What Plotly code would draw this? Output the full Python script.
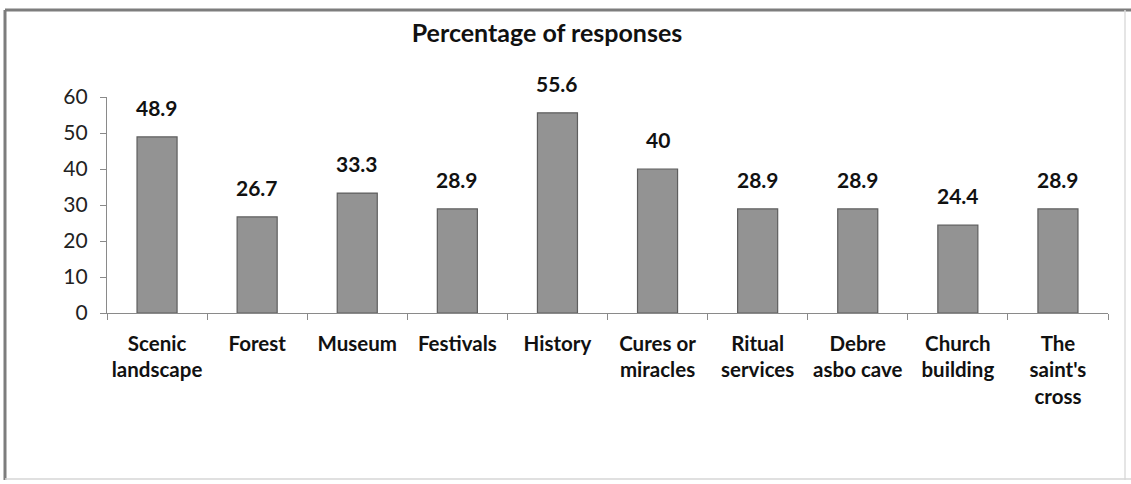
import plotly.graph_objects as go

categories = ["Scenic<br>landscape", "Forest", "Museum", "Festivals", "History",
              "Cures or<br>miracles", "Ritual<br>services", "Debre<br>asbo cave",
              "Church<br>building", "The<br>saint's<br>cross"]
values = [48.9, 26.7, 33.3, 28.9, 55.6, 40, 28.9, 28.9, 24.4, 28.9]
y_ticks = [0, 10, 20, 30, 40, 50, 60]
title_text = "Percentage of responses"

FONT = "Lato"
W, H = 1131, 484
L, R, T, B = 107, 23, 97, 171
pw, ph = W - L - R, H - T - B

def px2paper_x(px):
    return (px - L) / pw

def px2paper_y(py):
    return (H - B - py) / ph

fig = go.Figure()
fig.add_trace(go.Bar(
    x=categories, y=values, width=0.4,
    marker=dict(color="#939393", line=dict(color="#5e5e5e", width=1.2)),
    hoverinfo="x+y",
))

for c, v in zip(categories, values):
    fig.add_annotation(x=c, y=v, text=f"<b>{v:g}</b>", showarrow=False,
                       yanchor="bottom", yshift=15,
                       font=dict(family=FONT, size=21, color="#111"))

# chart frame
frame = [
    (5, 10, 1131, 10, "#7d7d7d", 3),
    (5, 10, 5, 480, "#7d7d7d", 3),
    (1125, 10, 1125, 480, "#dddddd", 1.5),
    (5, 479, 1131, 479, "#d6d6d6", 1.5),
]
for x0, y0, x1, y1, col, w in frame:
    fig.add_shape(type="line", xref="paper", yref="paper",
                  x0=px2paper_x(x0), y0=px2paper_y(y0),
                  x1=px2paper_x(x1), y1=px2paper_y(y1),
                  line=dict(color=col, width=w))

fig.update_layout(
    width=W, height=H,
    margin=dict(l=L, r=R, t=T, b=B, pad=0),
    paper_bgcolor="white", plot_bgcolor="white",
    showlegend=False,
    title=dict(text=f"<b>{title_text}</b>", x=547 / W, xref="container",
               xanchor="center", y=1 - 33 / H, yref="container", yanchor="middle",
               font=dict(family=FONT, size=25, color="#111")),
    font=dict(family=FONT, color="#111"),
    bargap=0.6,
)
fig.update_xaxes(
    range=[-0.5, len(categories) - 0.5],
    showline=True, linecolor="#8a8a8a", linewidth=1.3,
    ticks="outside", tickson="boundaries", ticklen=6, tickcolor="#8a8a8a",
    tickfont=dict(family=FONT, size=20.5, color="#111"),
    tickprefix="<b>", ticksuffix="</b>",
    tickangle=0,
    ticklabelstandoff=12,
    showgrid=False, zeroline=False,
)
fig.update_yaxes(
    range=[0, 60], tickvals=y_ticks,
    showline=True, linecolor="#8a8a8a", linewidth=1.3,
    ticks="outside", ticklen=6, tickcolor="#8a8a8a",
    tickfont=dict(family=FONT, size=21, color="#222"),
    ticklabelstandoff=8,
    showgrid=False, zeroline=False,
)

fig.write_html("out.html")
